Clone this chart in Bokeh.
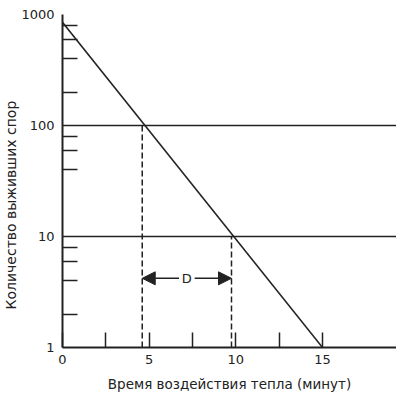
from bokeh.plotting import figure
from bokeh.models import FixedTicker, Label, Arrow, NormalHead, Range1d, Title
from bokeh.embed import file_html
from bokeh.resources import INLINE

# data
time_line = [0, 15]
survivors_line = [850, 1]
dash_x = [4.6, 9.75]
dash_y = [100, 10]
arrow_y = 4.2
d_label = "D"
x_major = [0, 5, 10, 15]
x_minor = [2.5, 7.5, 12.5]
y_major = [1, 10, 100, 1000]
y_minor = [2, 4, 6, 8, 40, 60, 80, 200, 400, 600, 800]
y_grid = [10, 100, 1000]
x_title = "Время воздействия тепла (минут)"
y_title = "Количество выживших спор"

FONT = "DejaVu Sans"
INK = "#222222"

p = figure(width=396, height=396, y_axis_type="log",
           x_range=Range1d(0, 19.27), y_range=Range1d(1, 1000),
           output_backend="svg", toolbar_location=None,
           min_border_left=62, min_border_right=0,
           min_border_top=14, min_border_bottom=49)
p.outline_line_color = None
p.background_fill_color = "white"

# axes
p.xaxis.ticker = FixedTicker(ticks=x_major, minor_ticks=x_minor)
p.yaxis.ticker = FixedTicker(ticks=y_major, minor_ticks=y_minor)
p.yaxis.major_label_overrides = {v: str(v) for v in y_major}
for ax in (p.xaxis[0], p.yaxis[0]):
    ax.axis_line_color = INK
    ax.axis_line_width = 2
    ax.major_label_text_font = FONT
    ax.major_label_text_font_size = "13px"
    ax.major_label_text_color = INK
    ax.minor_tick_in = 15
    ax.minor_tick_out = 0
    ax.minor_tick_line_color = INK
    ax.minor_tick_line_width = 1.5
p.xaxis.major_label_standoff = 7
p.yaxis.major_label_standoff = 8
p.xaxis.major_tick_in = 15
p.xaxis.major_tick_out = 0
p.xaxis.major_tick_line_color = INK
p.xaxis.major_tick_line_width = 1.5
p.yaxis.major_tick_in = 0
p.yaxis.major_tick_out = 0

p.xaxis.axis_label = x_title
p.xaxis.axis_label_text_font = FONT
p.xaxis.axis_label_text_font_size = "13.5px"
p.xaxis.axis_label_text_font_style = "normal"
p.xaxis.axis_label_text_color = INK
p.xaxis.axis_label_standoff = 9

p.add_layout(Title(text=y_title, align="left", offset=38,
                   text_font=FONT, text_font_size="14px",
                   text_font_style="normal", text_color=INK,
                   standoff=0), "left")

p.xgrid.grid_line_color = None
p.ygrid.ticker = FixedTicker(ticks=y_grid)
p.ygrid.grid_line_color = INK
p.ygrid.grid_line_width = 1.5
p.ygrid.grid_line_alpha = 1

# main line
p.line(time_line, survivors_line, line_color=INK, line_width=1.5)

# dashed verticals
for xv, yv in zip(dash_x, dash_y):
    p.line([xv, xv], [1, yv], line_color=INK, line_width=1.5, line_dash="6 3")

# D arrows
d_center = (dash_x[0] + dash_x[1]) / 2
gap = 0.45
p.add_layout(Arrow(end=NormalHead(size=13, fill_color=INK, line_color=INK),
                   x_start=d_center - gap, y_start=arrow_y,
                   x_end=dash_x[0], y_end=arrow_y,
                   line_color=INK, line_width=1.5))
p.add_layout(Arrow(end=NormalHead(size=13, fill_color=INK, line_color=INK),
                   x_start=d_center + gap, y_start=arrow_y,
                   x_end=dash_x[1], y_end=arrow_y,
                   line_color=INK, line_width=1.5))
p.add_layout(Label(x=d_center, y=arrow_y, text=d_label,
                   text_align="center", text_baseline="middle",
                   text_font=FONT, text_font_size="13px", text_color=INK))

open("out.html", "w").write(file_html(p, INLINE))
